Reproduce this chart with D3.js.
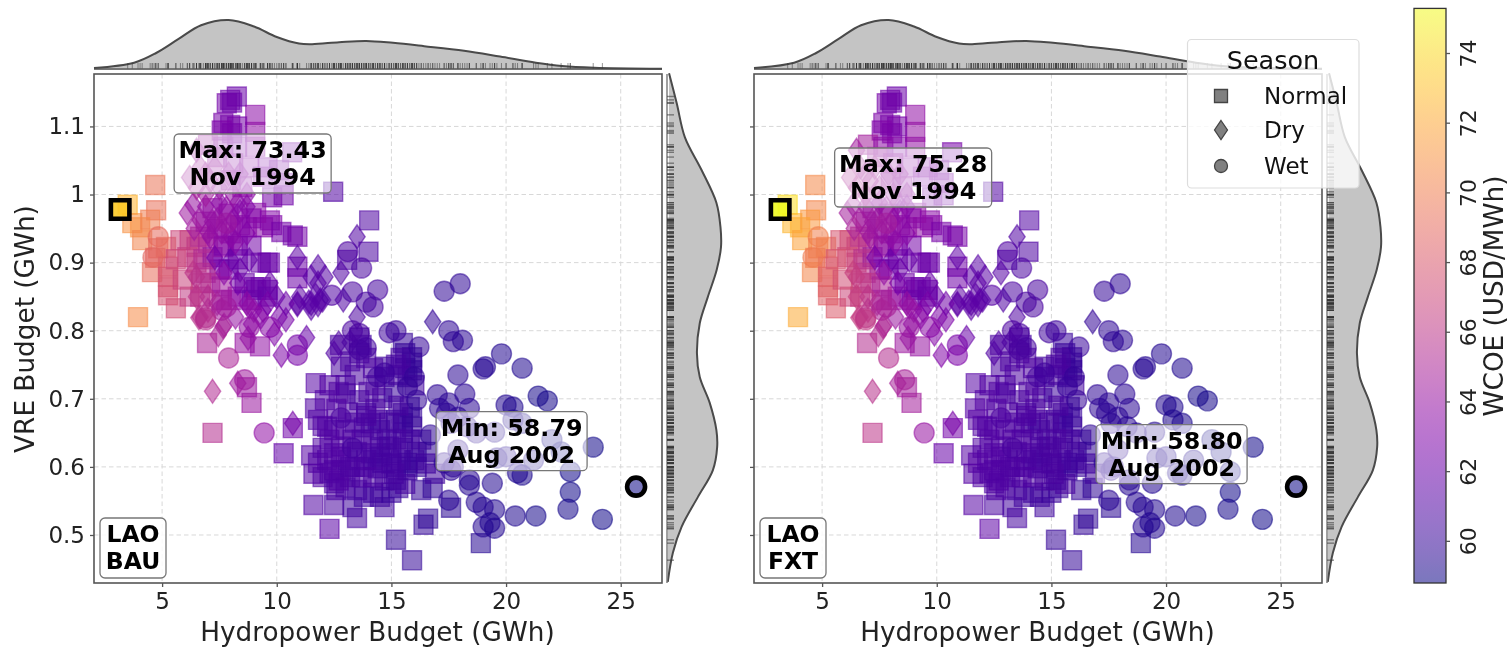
<!DOCTYPE html>
<html><head><meta charset="utf-8">
<script src="https://cdn.jsdelivr.net/npm/d3@7"></script>
<style>
html,body{margin:0;padding:0;background:#fff}
svg{display:block;font-family:"DejaVu Sans",sans-serif;filter:blur(0.5px)}
</style></head><body><div id="chart"></div>
<script>
// ---------- DATA ----------
const xTickValues=[5,10,15,20,25];
const yTickValues=[0.5,0.6,0.7,0.8,0.9,1.0,1.1];
const yTickLabels=["0.5","0.6","0.7","0.8","0.9","1","1.1"];
const cbTickValues=[60,62,64,66,68,70,72,74];
const seasons=["Normal","Dry","Wet"];

const normalHydro=[3.5,4.7,4.74,3.7,4.04,4.48,4.13,5.17,4.83,4.7,4.56,5.26,5.26,5.26,5.26,5.6,3.95,5.8,6.2,6.5,6.1,6.5,6.2,6.66,7.2,9.6,9.7,9.4,9.8,9.7,10.7,10.9,10.9,10.9,13.07,14,14.03,12.46,10.3,9.8,8,9.3,9.6,9,6.96,8.6,9.27,8.9,8.7,7.2,11.7,10.7,
8.26,7.97,7.82,8.05,9.06,9.06,7.67,7.97,8.27,7.6,8.05,9.06,7,7.67,8.27,10.67,7.4,8.1,8.8,9.6,10.1,9.4,10.3,8,8.5,9.1,8,8.7,6.66,7,7.66,8.3,9.1,9.6,
12.1,11.67,12,10.3,11.5,11.6,11.6,12.3,12.5,13.5,13.3,14.7,15.2,15.9,16.4,16.6,17.6,18.9,16.3,16.8,15.3,14.2,13.8,14.5,15,12.5,13,13.5,12.3,12.8,13.2,13.8,14.2,14.6,15.2,15.7,12.7,12.8,13,14.7,14.7,15.5,15.9,15.7,15.9,15.6,12.76,13.6,13.7,13.6,13.9,14.1,14.4,13.8,14.5,15.5,15.5,15.5,15.9,15.9,15.2,15.8,14.8,11.8,12.2,12.5,13,13.6,14.6,15.1,12,12.5,13.1,13.5,14.1,14.5,15,15.5,16.1,16.6,11.8,12.5,14.4,15.7,16.1,12,12.6,15.2,15.6,15.9,
6.9,7.4,7.9,8.4,8.9,7.2,7.7,8.3,8.9,7.5,7.9,6.9,7.1,7.6,6.7,5.9,5.6,6.8,7.6,8.6,8.9,9.3,8.3,10.2,
12.3,12.8,13.3,13.7,14.2,14.9,15.2,15.8,16.3,12.2,12.8,13.4,13.9,14.5,15,15.4,16,16.5,12.7,13.2,13.7,14.2,14.7,15.1,15.6,13,13.4,13.9,14.3,14.9,15.3,13.1,12.6,12.3,13.4,14,14.3,15.3,15.4,15.2,16,13.2,13.9,14.2,16.9];
const normalVRE=[.985,1.014,.977,.958,.952,.963,.933,.923,.921,.907,.886,.894,.879,.864,.852,.833,.82,.933,.933,.923,.908,.9,.85,.85,.908,.9,.9,.952,.955,.962,.94,.938,.894,.877,.904,.916,.962,1.004,.999,.996,.845,.864,.86,.864,.782,.782,.777,.694,.717,.65,.723,.657,
1.144,1.139,1.134,1.135,1.117,1.092,1.105,1.102,1.1,1.094,1.09,1.07,1.073,1.07,1.07,1.062,1.055,1.046,1.04,1.04,1.036,1.026,1.017,1.021,1.011,.973,.943,.952,.938,.929,.923,.85,.86,.85,
.698,.686,.66,.62,.617,.59,.544,.509,.544,.525,.541,.541,.493,.463,.515,.524,.54,.488,.566,.569,.569,.562,.556,.556,.562,.576,.57,.566,.591,.595,.585,.6,.61,.606,.6,.595,.71,.747,.72,.747,.732,.782,.761,.732,.742,.745,.779,.79,.779,.767,.679,.664,.669,.658,.654,.679,.664,.65,.673,.659,.669,.688,.64,.669,.659,.654,.708,.698,.701,.71,.628,.62,.61,.622,.62,.629,.62,.628,.622,.622,.606,.595,.598,.606,.6,.585,.566,.581,.767,.753,
.96,.95,.972,.955,.965,.98,.925,.925,.925,.89,.89,.885,.87,.865,.87,.875,.905,.905,.845,.87,.845,.9,.905,.945,
.64,.63,.64,.64,.64,.63,.64,.64,.64,.61,.615,.6,.61,.615,.605,.61,.61,.605,.58,.6,.585,.585,.58,.59,.575,.655,.665,.675,.685,.665,.69,.68,.685,.72,.735,.71,.72,.735,.76,.75,.72,.755,.76,.745,.59];
const normalBAU=[72.5,69.5,69.3,71,71,70,70.3,69,69,68.8,69.2,68,67.8,67.7,67.6,67.3,70.7,67,66.5,66.2,66.5,66.3,66.3,65.8,62.3,62.1,62,63.4,63,63.2,62.3,62.4,62.2,62.2,60.9,60.8,60.9,61,62.3,62.5,63.8,61.9,61.8,62,65,64,63.7,64.2,64.2,65.5,61.2,62.3,
62,62.2,62.4,62.1,63.5,63.7,62.6,62.4,62.5,62.8,62.6,63.6,64.3,63.4,63,62.5,64,63.6,63.4,63,62.7,63,62.6,63.8,63.5,63.5,64,63.6,65.5,65.2,64.5,63.6,62,61.8,
61,61.1,61,61.8,61.2,61.2,61.1,61.4,60.7,60.5,60.4,60.3,59.9,59.9,59.9,59.7,59.5,59.4,59.9,59.8,60.1,60.3,60.3,60.3,60.1,60.8,60.6,60.5,60.9,60.8,60.7,60.5,60.3,60.2,60.1,60.1,60.9,60.7,60.7,60.3,60.3,60,59.9,60,59.9,60,60.7,60.5,60.5,60.6,60.5,60.4,60.3,60.5,60.3,60.1,60.1,60.1,60,60,60.2,60,60.3,61.1,61,60.9,60.7,60.6,60.3,60.2,61,60.9,60.7,60.6,60.4,60.3,60.2,60.1,59.9,59.8,61.1,60.9,60.3,60,59.9,61,60.8,60.1,60,59.9,
64.2,63.8,63.6,63.3,63.1,63.8,63,62.8,62.4,62.6,62.2,65.5,65.2,64.5,65.8,66.8,67,65.3,64.3,62.2,62,62,62,62.4,
61,61,60.8,60.8,60.8,60.6,60.6,60.6,60.4,61,61,60.8,60.8,60.6,60.6,60.6,60.4,60.4,61,60.8,60.8,60.8,60.6,60.6,60.6,61,60.8,60.8,60.8,60.6,60.6,60.8,61,61,60.8,60.8,60.8,60.6,60.6,60.6,60.5,60.8,60.8,60.8,60.4];
const normalFXT=[74.2,70.6,70.4,72.6,72.4,71.3,71.7,70.1,70.2,69.9,70.4,68.9,68.7,68.6,68.4,68.1,72.1,67.8,67.2,66.9,67.2,67,67,66.4,62.5,62.2,62.1,63.7,63.2,63.4,62.5,62.6,62.3,62.3,61,60.9,61,61.1,62.5,62.7,64.2,62,61.9,62.1,65.5,64.3,64,64.6,64.6,66,61.3,62.4,
62.1,62.3,62.5,62.2,63.7,63.9,62.8,62.5,62.6,63,62.7,63.8,64.7,63.6,63.2,62.6,64.3,63.8,63.6,63.2,62.9,63.2,62.8,64.1,63.7,63.7,64.3,63.9,66,65.7,64.9,63.9,62.1,61.9,
61.1,61.2,61.1,61.9,61.3,61.3,61.2,61.5,60.8,60.6,60.5,60.3,60,59.9,59.9,59.8,59.5,59.4,59.9,59.8,60.1,60.4,60.4,60.3,60.2,60.9,60.7,60.6,61,60.9,60.8,60.6,60.4,60.3,60.2,60.1,61,60.8,60.8,60.4,60.4,60.1,60,60,60,60.1,60.8,60.6,60.6,60.7,60.6,60.5,60.4,60.6,60.4,60.2,60.2,60.2,60.1,60.1,60.3,60.1,60.4,61.2,61.1,61,60.8,60.7,60.4,60.3,61.1,61,60.8,60.7,60.5,60.4,60.3,60.2,60,59.8,61.2,61,60.4,60.1,60,61.1,60.9,60.2,60.1,60,
64.6,64.1,63.9,63.5,63.3,64.1,63.3,63,62.5,62.9,62.4,66,65.7,65,66.3,67.4,67.7,65.8,64.7,62.4,62.1,62.1,62.1,62.6,
61.1,61.1,60.9,60.9,60.9,60.7,60.7,60.7,60.4,61.1,61.1,60.9,60.9,60.7,60.7,60.7,60.5,60.4,61.1,60.9,60.9,60.9,60.7,60.7,60.7,61.1,60.9,60.9,60.9,60.7,60.7,60.9,61.1,61.1,60.9,60.9,60.9,60.7,60.7,60.7,60.6,60.9,60.9,60.9,60.4];

const dryHydro=[6.1,6.35,6.9,7.5,8.3,8.7,6.65,7.4,8.1,7.1,8,8.7,6.5,6.2,6.66,7.1,6.5,6.35,7.3,8,8.4,8.8,7.7,8.3,10,9.7,10.9,6.5,6.5,7,6.66,7.66,7.4,8.7,9,9.4,10.4,10.1,9.3,11.3,11.8,12.1,11.8,11.5,11.9,11.5,10.9,12.8,13.5,13.5,12.9,7.2,8.3,8.75,7.45,7.7,6.6,10.2,8.8,10.7,12.7,12.5,13.2,16.8,11,11.4,11.7,12,10.9,11.5,11.8,
6.4,7,7.6,8.2,7.2,7.8,8.4,6.9,7.5,8.1,8.7,7.9,7.3,6.9,8.4,9.6,10.4,8.2,7,8.9,9.9];
const dryVRE=[.973,.985,.982,.988,.988,.982,.963,.963,.963,.938,.938,.943,1.065,1.025,1.04,1.02,1.01,.885,.907,.904,.889,.904,.885,.87,.85,.87,.908,.879,.85,.85,.82,.806,.84,.84,.83,.83,.816,.82,.82,.79,.894,.879,.87,.879,.845,.84,.84,.885,.938,.82,.845,.711,.723,.789,.794,.808,.819,.764,.835,.664,.782,.767,.783,.813,.85,.842,.852,.845,.838,.833,.838,
.95,.945,.945,.93,.96,.98,.975,1,1.01,1,1,1.03,1.04,1.03,1.03,.84,.84,.82,.83,.81,.795];
const dryBAU=[64.3,64,63.8,63.5,63.2,63,64.1,63.8,63.5,63.8,63.4,63.1,64.2,64.7,64.4,64.4,64.8,66,62.5,62,62,61.9,63.5,62.4,62,62,61.6,65.8,66,65.5,65.8,64.7,64.8,63.6,63.5,63,62.6,62.7,63.4,61.9,61.3,61.3,61.4,61.4,61.3,61.4,61.5,61.1,61,60.9,61,65.3,64.4,63.8,65,64.8,65.8,62.9,63.7,62.5,60.9,61,60.8,59.9,61.5,61.4,61.4,61.3,61.5,61.4,61.4,
64.5,64,63.7,63.3,63.9,63.7,63.3,64.5,64.1,63.9,63.6,63.9,64.2,64.3,63.6,62.6,62.2,63.9,65.3,63.5,63];
const dryFXT=[64.7,64.4,64.2,63.8,63.4,63.2,64.5,64.2,63.8,64.2,63.7,63.3,64.5,65.1,64.8,64.8,65.2,66.6,62.7,62.1,62.1,62,63.9,62.6,62.1,62.1,61.7,66.4,66.6,66,66.4,65.1,65.2,63.9,63.7,63.2,62.8,62.9,63.6,62,61.4,61.4,61.5,61.5,61.4,61.5,61.6,61.2,61.1,61,61.1,65.8,64.8,64.1,65.5,65.2,66.4,63.1,64,62.7,61,61.1,60.9,59.9,61.6,61.5,61.5,61.4,61.6,61.5,61.5,
65,64.4,64,63.6,64.3,64,63.6,64.9,64.5,64.2,63.8,64.2,64.6,64.7,63.8,62.7,62.3,64.2,65.8,63.7,63.2];

const wetHydro=[4.83,4.6,6.9,7.6,13.1,13.7,12.4,13.3,13.9,14.4,14.2,13.6,13.3,14.9,7.8,8.8,9.7,7.8,6.9,7.9,8.6,9.45,10.9,10.9,15.2,16.2,17.7,18.1,17.3,18,17.5,17.9,19,19.1,19.8,20.7,21.4,21.8,17,18.2,18.4,17.5,17.1,20,20.3,20.7,19.5,22,22.4,22.8,21.2,19.6,20,20.7,20.5,17.9,17.6,17.4,17.9,18.3,18.7,20.3,17.3,17.7,18.4,23.8,22.8,22.7,24.2,21.3,20.4,19.5,17.5,18.4,19.4,18.7,19,19,19.5,19.3,12.8,13.3,14.4,14.7,16,15.7,16.1,13.9,13.6,16.7,17.6];
const wetVRE=[.938,.908,.819,.83,.916,.892,.852,.857,.842,.86,.835,.796,.8,.797,.835,.805,.805,.958,.816,.76,.728,.65,.779,.764,.8,.776,.784,.786,.858,.869,.8,.735,.744,.747,.766,.745,.704,.697,.706,.707,.686,.694,.686,.691,.688,.664,.651,.64,.622,.593,.61,.613,.615,.588,.591,.625,.664,.679,.673,.659,.65,.669,.606,.6,.581,.629,.563,.538,.523,.528,.528,.537,.551,.573,.576,.548,.541,.512,.51,.518,.672,.628,.732,.738,.732,.717,.698,.775,.772,.647,.595];
const wetBAU=[69,68.8,65.5,64.6,60.9,60.7,61.1,60.7,60.6,60.6,60.6,60.7,60.8,60.3,64.5,63.8,63.3,64.2,65.6,65,64.4,63.7,62.5,62.6,60.2,60,59.7,59.6,59.8,59.7,59.7,59.6,59.4,59.4,59.3,59.2,59,59,59.7,59.6,59.6,59.6,59.7,59.3,59.2,59.1,59.3,58.9,58.9,58.9,59.1,59.3,59.3,59.1,59.2,59.6,59.6,59.7,59.6,59.5,59.4,59.2,59.6,59.6,59.5,58.9,58.9,59,58.9,59,59.2,59.3,59.6,59.4,59.3,59.4,59.4,59.4,59.3,59.3,60.8,60.6,60.4,60.3,59.9,60,59.9,60.5,60.6,59.8,59.7];
const wetFXT=[70.1,69.9,66,65,61,60.8,61.2,60.8,60.7,60.7,60.7,60.8,60.9,60.4,64.9,64.1,63.5,64.6,66.2,65.5,64.8,64,62.7,62.8,60.3,60.1,59.7,59.6,59.9,59.7,59.7,59.6,59.4,59.4,59.3,59.2,59,59,59.7,59.6,59.6,59.6,59.7,59.3,59.2,59.1,59.3,58.9,58.9,58.9,59.1,59.3,59.3,59.1,59.2,59.6,59.6,59.7,59.6,59.5,59.4,59.2,59.6,59.6,59.5,58.9,58.9,59,58.9,59,59.2,59.3,59.6,59.4,59.3,59.4,59.4,59.4,59.3,59.3,60.9,60.7,60.5,60.4,60,60.1,60,60.6,60.7,59.8,59.7];

const hydroKdeX=[2.03,3.78,4.74,5.72,6.7,7.9,9.01,10,10.97,11.54,12.72,13.9,15.07,16.43,18.17,19.74,21.3,22.44,23.84,26.8];
const hydroKdeD=[.0015,.0096,.0245,.046,.067,.075,.065,.049,.039,.038,.041,.043,.04,.035,.028,.019,.0096,.0046,.002,.0005];
const vreKdeY=[1.178,1.134,1.084,1.036,.988,.952,.923,.889,.849,.811,.767,.732,.694,.654,.629,.595,.556,.512,.474,.431];
const vreKdeD=[.08,.38,.7,1.35,1.93,2.09,2.11,1.94,1.59,1.28,1.17,1.28,1.67,1.93,1.96,1.79,1.21,.57,.23,.03];

const extremeHydro=[3.17,25.67];
const extremeVRE=[.978,.571];
const extremeSeason=["Normal","Wet"];
const extremeDates=["Nov 1994","Aug 2002"];
const extremeTags=["Max","Min"];
const extremeBAU=[73.43,58.79];
const extremeFXT=[75.28,58.80];
const wcoeDomain=[58.79,75.28];

const xLabel="Hydropower Budget (GWh)",yLabel="VRE Budget (GWh)",cbLabel="WCOE (USD/MWh)",legendTitle="Season";

// ---------- LAYOUT ----------
const W=1509,H=647,ALPHA=0.55,INK="#555";
const svg=d3.select("#chart").append("svg").attr("width",W).attr("height",H);
const color=v=>d3.interpolatePlasma((v-wcoeDomain[0])/(wcoeDomain[1]-wcoeDomain[0]));
const thinDiamond={draw(ctx,size){const h=Math.sqrt(size),w=h*.68;ctx.moveTo(0,-h/2);ctx.lineTo(w/2,0);ctx.lineTo(0,h/2);ctx.lineTo(-w/2,0);ctx.closePath();}};
const symbols={
  Normal:d3.symbol().type(d3.symbolSquare).size(19*19),
  Dry:d3.symbol().type(thinDiamond).size(24*24),
  Wet:d3.symbol().type(d3.symbolCircle).size(Math.PI*10*10)
};
const legendSymbols={
  Normal:d3.symbol().type(d3.symbolSquare).size(13*13),
  Dry:d3.symbol().type(thinDiamond).size(19*19),
  Wet:d3.symbol().type(d3.symbolCircle).size(Math.PI*6.5*6.5)
};
function rows(hydro,vre,wcoe,season){return hydro.map((h,i)=>({h,v:vre[i],c:wcoe[i],season}));}

function panel(ox,tag,cols,extreme,annot){
  const x=d3.scaleLinear().domain([2.03,26.8]).range([94+ox,662+ox]);
  const y=d3.scaleLinear().domain([.4295,1.177]).range([583,74]);
  const g=svg.append("g");
  const data=[...rows(normalHydro,normalVRE,cols[0],"Normal"),...rows(dryHydro,dryVRE,cols[1],"Dry"),...rows(wetHydro,wetVRE,cols[2],"Wet")];
  // grid
  g.append("g").selectAll("line").data(xTickValues).join("line").attr("x1",d=>x(d)).attr("x2",d=>x(d)).attr("y1",74).attr("y2",583)
    .attr("stroke","#d8d8d8").attr("stroke-width",1).attr("stroke-dasharray","4.5,3");
  g.append("g").selectAll("line").data(yTickValues).join("line").attr("y1",d=>y(d)).attr("y2",d=>y(d)).attr("x1",94+ox).attr("x2",662+ox)
    .attr("stroke","#d8d8d8").attr("stroke-width",1).attr("stroke-dasharray","4.5,3");
  // points
  g.append("g").selectAll("path").data(data).join("path")
    .attr("d",d=>symbols[d.season]())
    .attr("transform",d=>`translate(${x(d.h)},${y(d.v)})`)
    .attr("fill",d=>color(d.c)).attr("fill-opacity",ALPHA)
    .attr("stroke",d=>color(d.c)).attr("stroke-opacity",ALPHA).attr("stroke-width",1.4);
  // spines
  g.append("rect").attr("x",94+ox).attr("y",74).attr("width",568).attr("height",509).attr("fill","none").attr("stroke",INK).attr("stroke-width",1.6);
  // axes
  const ax=g.append("g").attr("transform","translate(0,583)").call(d3.axisBottom(x).tickValues(xTickValues).tickSize(4).tickPadding(6));
  const ay=g.append("g").attr("transform",`translate(${94+ox},0)`).call(d3.axisLeft(y).tickValues(yTickValues).tickSize(4).tickPadding(5).tickFormat((d,i)=>ox?"":yTickLabels[i]));
  [ax,ay].forEach(a=>{a.select(".domain").remove();a.selectAll("line").attr("stroke",INK).attr("stroke-width",1.3);
    a.selectAll("text").attr("font-size",23).attr("font-family","DejaVu Sans").attr("fill","#222");});
  g.append("text").attr("x",(94+662)/2+ox-0.5).attr("y",641).attr("text-anchor","middle").attr("font-size",26.3).attr("fill","#222").text(xLabel);
  if(!ox) g.append("text").attr("transform","translate(34,329) rotate(-90)").attr("text-anchor","middle").attr("font-size",26.3).attr("fill","#222").text(yLabel);
  // top marginal
  const dTop=d3.scaleLinear().domain([0,.075]).range([69,20]);
  g.append("path").datum(hydroKdeX.map((h,i)=>[h,hydroKdeD[i]]))
    .attr("d",d3.line().x(d=>x(d[0])).y(d=>dTop(d[1])).curve(d3.curveCatmullRom.alpha(.5)))
    .attr("fill","#c4c4c4").attr("stroke","#4a4a4a").attr("stroke-width",2);
  g.append("line").attr("x1",94+ox).attr("x2",662+ox).attr("y1",69).attr("y2",69).attr("stroke","#4a4a4a").attr("stroke-width",1.6);
  g.append("g").selectAll("line").data(data).join("line").attr("x1",d=>x(d.h)).attr("x2",d=>x(d.h)).attr("y1",63).attr("y2",68.5)
    .attr("stroke","#333").attr("stroke-opacity",.5).attr("stroke-width",1);
  // right marginal
  const dRight=d3.scaleLinear().domain([0,2.11]).range([667+ox,721+ox]);
  g.append("path").datum(vreKdeY.map((v,i)=>[v,vreKdeD[i]]))
    .attr("d",d3.line().y(d=>y(d[0])).x(d=>dRight(d[1])).curve(d3.curveCatmullRom.alpha(.5)))
    .attr("fill","#c4c4c4").attr("stroke","#4a4a4a").attr("stroke-width",2);
  g.append("line").attr("x1",667+ox).attr("x2",667+ox).attr("y1",74).attr("y2",583).attr("stroke","#777").attr("stroke-width",1.4);
  g.append("g").selectAll("line").data(data).join("line").attr("y1",d=>y(d.v)).attr("y2",d=>y(d.v)).attr("x1",667+ox).attr("x2",674+ox)
    .attr("stroke","#333").attr("stroke-opacity",.55).attr("stroke-width",1.4);
  // highlighted extremes
  extreme.forEach((val,i)=>{
    const px=x(extremeHydro[i]),py=y(extremeVRE[i]);
    g.append("path").attr("d",d3.symbol().type(extremeSeason[i]==="Wet"?d3.symbolCircle:d3.symbolSquare).size(extremeSeason[i]==="Wet"?Math.PI*9*9:18.5*18.5)())
      .attr("transform",`translate(${px},${py})`).attr("fill",color(val)).attr("fill-opacity",i?ALPHA:.9)
      .attr("stroke","#000").attr("stroke-width",4.6);
  });
  // annotations
  extreme.forEach((val,i)=>{
    const cx=x(extremeHydro[i])+annot[i][0],cy=y(extremeVRE[i])+annot[i][1];
    const bw=annot[i][2],bh=59;
    g.append("rect").attr("x",cx-bw/2).attr("y",cy-bh/2).attr("width",bw).attr("height",bh).attr("rx",4.5)
      .attr("fill","#fff").attr("fill-opacity",.6).attr("stroke","#777").attr("stroke-width",1.3);
    const t=g.append("text").attr("text-anchor","middle").attr("font-weight","bold").attr("font-size",23.8).attr("fill","#000");
    t.append("tspan").attr("x",cx).attr("y",cy-5.5).text(`${extremeTags[i]}: ${val.toFixed(2)}`);
    t.append("tspan").attr("x",cx).attr("y",cy+21.5).text(extremeDates[i]);
  });
  // panel tag
  const tb={x:100+ox,y:518,w:66,h:60};
  g.append("rect").attr("x",tb.x).attr("y",tb.y).attr("width",tb.w).attr("height",tb.h).attr("rx",5).attr("fill","#fff").attr("fill-opacity",.85).attr("stroke","#777").attr("stroke-width",1.3);
  const tt=g.append("text").attr("text-anchor","middle").attr("font-weight","bold").attr("font-size",23.5).attr("fill","#000");
  tag.forEach((s,i)=>tt.append("tspan").attr("x",tb.x+tb.w/2).attr("y",tb.y+24+i*27).text(s));
}
panel(0,["LAO","BAU"],[normalBAU,dryBAU,wetBAU],extremeBAU,[[132.5,-46,157],[-124.5,-45.5,151]]);
panel(660,["LAO","FXT"],[normalFXT,dryFXT,wetFXT],extremeFXT,[[133,-32,157],[-124.5,-32.5,151]]);

// legend
const lg=svg.append("g");
lg.append("rect").attr("x",1187.5).attr("y",39.5).attr("width",171.5).attr("height",148.5).attr("rx",4).attr("fill","#fff").attr("fill-opacity",.8).attr("stroke","#ddd").attr("stroke-width",1.2);
lg.append("text").attr("x",1273).attr("y",69).attr("text-anchor","middle").attr("font-size",25.5).attr("fill","#111").text(legendTitle);
seasons.forEach((s,i)=>{
  const yy=[96,130,166][i];
  lg.append("path").attr("d",legendSymbols[s]()).attr("transform",`translate(1221,${yy})`).attr("fill","#808080").attr("stroke","#444").attr("stroke-width",1.3);
  lg.append("text").attr("x",1264).attr("y",yy+8).attr("font-size",23).attr("fill","#111").text(s);
});

// colourbar
const cbScale=d3.scaleLinear().domain(wcoeDomain).range([583,8.4]);
const defs=svg.append("defs");
const grad=defs.append("linearGradient").attr("id","plasmaBar").attr("x1",0).attr("x2",0).attr("y1",1).attr("y2",0);
d3.range(0,1.0001,.05).forEach(t=>grad.append("stop").attr("offset",t).attr("stop-color",d3.interpolatePlasma(t)).attr("stop-opacity",ALPHA));
svg.append("rect").attr("x",1414).attr("y",8.4).attr("width",32).attr("height",574.6).attr("fill","url(#plasmaBar)").attr("stroke","#333").attr("stroke-width",1.3);
const cbAxis=svg.append("g").attr("transform","translate(1446,0)").call(d3.axisRight(cbScale).tickValues(cbTickValues).tickSize(4).tickPadding(5));
cbAxis.select(".domain").remove();
cbAxis.selectAll("line").attr("stroke",INK).attr("stroke-width",1.3);
cbAxis.selectAll("text").attr("font-size",22).attr("font-family","DejaVu Sans").attr("fill","#222")
  .attr("x",0).attr("y",0).attr("dy",0).attr("text-anchor","middle").attr("transform","translate(30,0) rotate(-90)");
svg.append("text").attr("transform","translate(1503,296) rotate(-90)").attr("text-anchor","middle").attr("font-size",26.3).attr("fill","#222").text(cbLabel);
</script></body></html>
